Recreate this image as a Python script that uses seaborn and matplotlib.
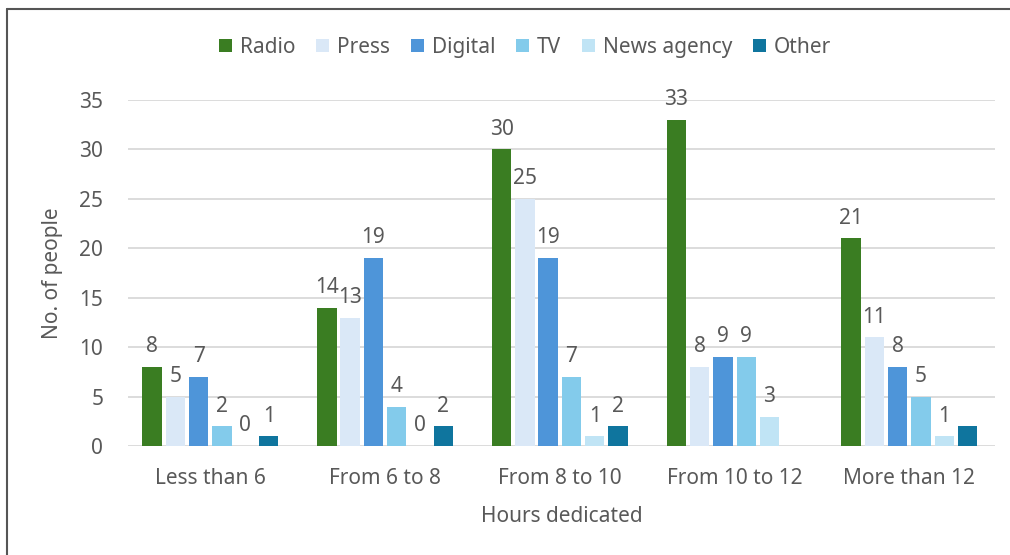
import numpy as np
import pandas as pd
import matplotlib
matplotlib.use("Agg")
import matplotlib.pyplot as plt
from matplotlib.lines import Line2D
import seaborn as sns

categories = ["Less than 6", "From 6 to 8", "From 8 to 10", "From 10 to 12", "More than 12"]
series = ["Radio", "Press", "Digital", "TV", "News agency", "Other"]
radio = [8, 14, 30, 33, 21]
press = [5, 13, 25, 8, 11]
digital = [7, 19, 19, 9, 8]
tv = [2, 4, 7, 9, 5]
news_agency = [0, 0, 1, 3, 1]
other = [1, 2, 2, np.nan, 2]
colors = ["#3a7d22", "#dae8f7", "#4e95d9", "#83cbeb", "#c0e4f5", "#0f759e"]

values = [radio, press, digital, tv, news_agency, other]
df = pd.DataFrame(
    [(c, s, v[i]) for s, v in zip(series, values) for i, c in enumerate(categories)],
    columns=["Hours", "Medium", "People"],
)

sns.set_theme(style="white")
plt.rcParams["font.family"] = ["Noto Sans", "DejaVu Sans"]
text_color = "#595959"
fs = 15

fig = plt.figure(figsize=(10.10, 5.55), dpi=100)
ax = fig.add_axes([0.127, 0.196, 0.858, 0.624])

sns.barplot(
    data=df, x="Hours", y="People", hue="Medium", order=categories,
    hue_order=series, palette=colors, width=0.8, gap=0.17,
    saturation=1, errorbar=None, ax=ax, legend=False, zorder=3, linewidth=0,
)

# value labels above each bar
for cont, v in zip(ax.containers, values):
    for patch, val in zip(cont, v):
        if patch is None or pd.isna(val):
            continue
        ax.annotate(
            f"{int(val)}",
            (patch.get_x() + patch.get_width() / 2, patch.get_height()),
            xytext=(0, 7), textcoords="offset points",
            ha="center", va="bottom", fontsize=fs, color=text_color,
        )

ax.set_ylim(0, 35)
ax.set_yticks(range(0, 36, 5))
ax.set_xlim(-0.47, 4.49)
ax.yaxis.grid(True, color="#d9d9d9", linewidth=1.3, zorder=0)
ax.set_axisbelow(True)
for sp in ax.spines.values():
    sp.set_visible(False)
ax.tick_params(axis="both", length=0, labelsize=fs, colors=text_color)
ax.tick_params(axis="x", pad=16)
ax.tick_params(axis="y", pad=18)
ax.set_xlabel("Hours dedicated", fontsize=fs, color=text_color, labelpad=12)
ax.set_ylabel("No. of people", fontsize=fs, color=text_color, labelpad=12)

handles = [plt.Rectangle((0, 0), 1, 1, facecolor=c, edgecolor="none") for c in colors]
fig.legend(
    handles, series, loc="center", bbox_to_anchor=(0.52, 0.915), ncol=6,
    frameon=False, fontsize=fs, handlelength=0.6, handleheight=0.6,
    handletextpad=0.4, columnspacing=1.0, labelcolor=text_color,
)

# outer frame (top and left edges)
fig.add_artist(Line2D([7 / 1010, 1.0], [1 - 9 / 555, 1 - 9 / 555],
                      transform=fig.transFigure, color="#555555", linewidth=1.5))
fig.add_artist(Line2D([7 / 1010, 7 / 1010], [1 - 9 / 555, 0.0],
                      transform=fig.transFigure, color="#555555", linewidth=1.5))

fig.savefig("out.png", dpi=100)
